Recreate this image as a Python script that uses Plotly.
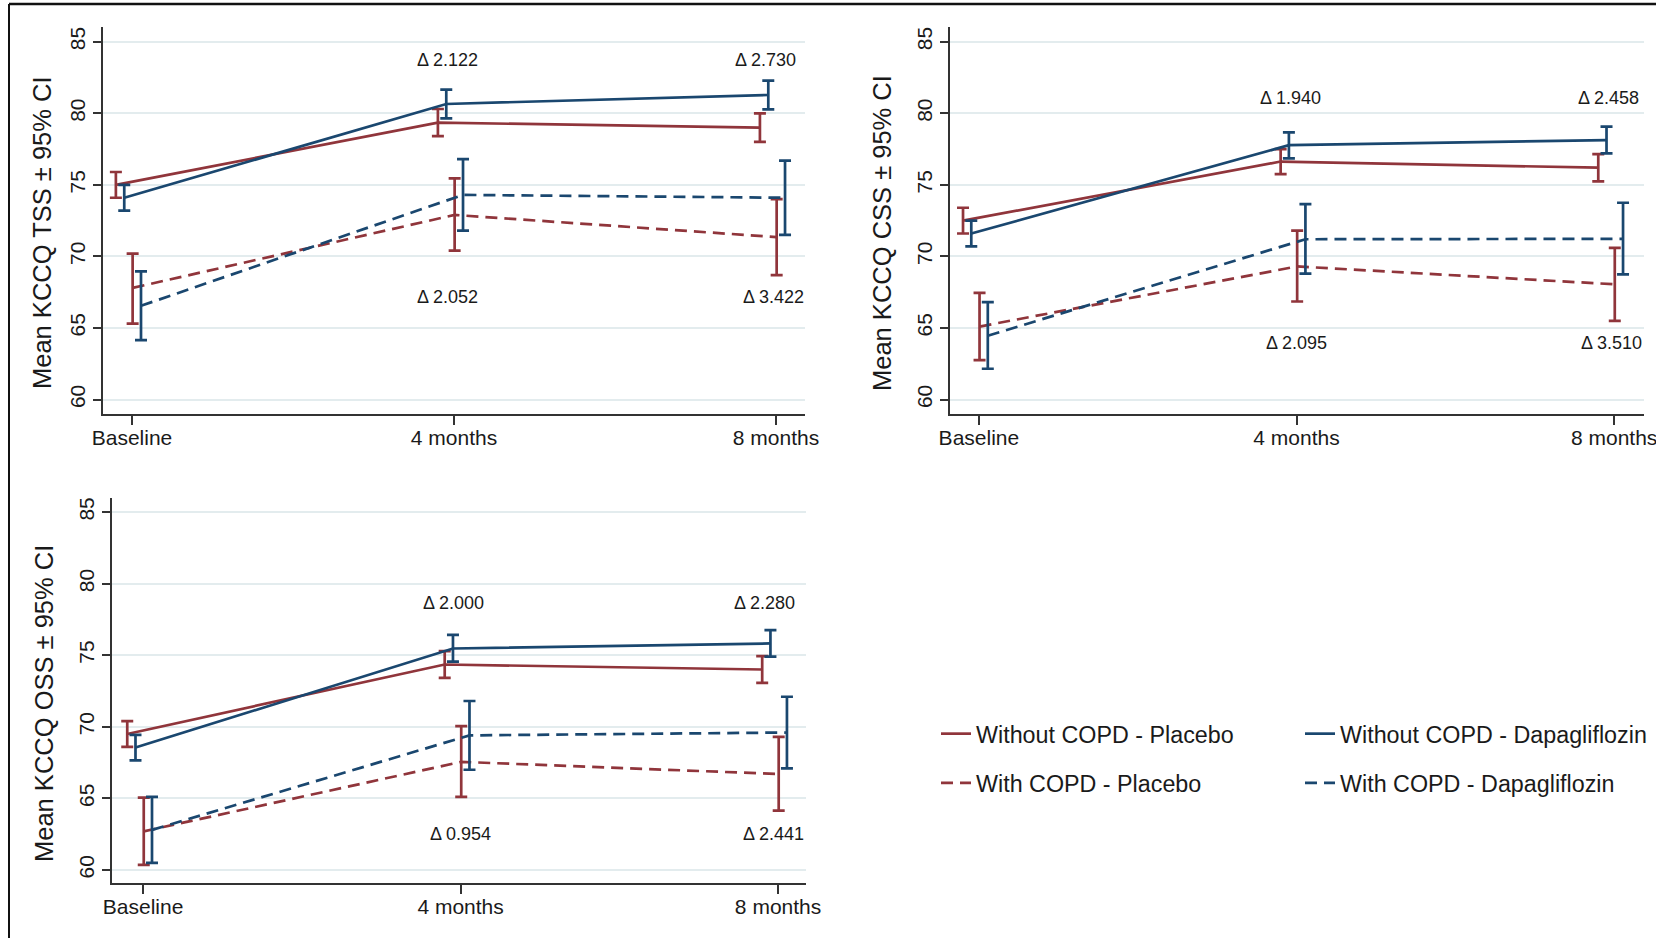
import plotly.graph_objects as go

# ---------------- data ----------------
timepoints = ["Baseline", "4 months", "8 months"]
series_names = ["Without COPD - Placebo", "Without COPD - Dapagliflozin",
                "With COPD - Placebo", "With COPD - Dapagliflozin"]

# KCCQ TSS (mean, lower CI, upper CI)
tss_nocopd_pbo = [75.0, 79.35, 79.0]
tss_nocopd_pbo_lo = [74.1, 78.4, 78.0]
tss_nocopd_pbo_hi = [75.9, 80.3, 80.0]
tss_nocopd_dapa = [74.1, 80.65, 81.28]
tss_nocopd_dapa_lo = [73.2, 79.65, 80.28]
tss_nocopd_dapa_hi = [75.0, 81.65, 82.28]
tss_copd_pbo = [67.8, 72.9, 71.35]
tss_copd_pbo_lo = [65.3, 70.4, 68.7]
tss_copd_pbo_hi = [70.2, 75.45, 74.0]
tss_copd_dapa = [66.55, 74.3, 74.1]
tss_copd_dapa_lo = [64.15, 71.8, 71.5]
tss_copd_dapa_hi = [68.95, 76.8, 76.7]

# KCCQ CSS
css_nocopd_pbo = [72.5, 76.63, 76.2]
css_nocopd_pbo_lo = [71.6, 75.75, 75.25]
css_nocopd_pbo_hi = [73.4, 77.5, 77.15]
css_nocopd_dapa = [71.6, 77.77, 78.13]
css_nocopd_dapa_lo = [70.7, 76.85, 77.2]
css_nocopd_dapa_hi = [72.5, 78.67, 79.07]
css_copd_pbo = [65.1, 69.3, 68.05]
css_copd_pbo_lo = [62.75, 66.85, 65.5]
css_copd_pbo_hi = [67.45, 71.8, 70.6]
css_copd_dapa = [64.46, 71.2, 71.23]
css_copd_dapa_lo = [62.15, 68.8, 68.75]
css_copd_dapa_hi = [66.8, 73.65, 73.75]

# KCCQ OSS
oss_nocopd_pbo = [69.5, 74.35, 74.0]
oss_nocopd_pbo_lo = [68.6, 73.42, 73.07]
oss_nocopd_pbo_hi = [70.4, 75.28, 74.93]
oss_nocopd_dapa = [68.55, 75.47, 75.82]
oss_nocopd_dapa_lo = [67.65, 74.55, 74.9]
oss_nocopd_dapa_hi = [69.43, 76.42, 76.75]
oss_copd_pbo = [62.7, 67.55, 66.7]
oss_copd_pbo_lo = [60.35, 65.1, 64.15]
oss_copd_pbo_hi = [65.05, 70.05, 69.3]
oss_copd_dapa = [62.8, 69.4, 69.6]
oss_copd_dapa_lo = [60.5, 67.0, 67.1]
oss_copd_dapa_hi = [65.1, 71.8, 72.1]

# Delta labels (4 months, 8 months)
tss_delta_nocopd = ["Δ 2.122", "Δ 2.730"]
tss_delta_copd = ["Δ 2.052", "Δ 3.422"]
css_delta_nocopd = ["Δ 1.940", "Δ 2.458"]
css_delta_copd = ["Δ 2.095", "Δ 3.510"]
oss_delta_nocopd = ["Δ 2.000", "Δ 2.280"]
oss_delta_copd = ["Δ 0.954", "Δ 2.441"]

y_ticks = [60, 65, 70, 75, 80, 85]

# ---------------- layout / styling ----------------
W, H = 1656, 938
RED = "#90353b"
BLUE = "#1a476f"
GRID = "#e3ecee"
AX = "#333333"
FONT = "Liberation Sans, Arial, sans-serif"
NARROW = "Liberation Sans Narrow, Arial Narrow, Liberation Sans, Arial, sans-serif"

series_style = [
    dict(color=RED, dash="solid", legend="legend"),
    dict(color=BLUE, dash="solid", legend="legend2"),
    dict(color=RED, dash="12px,7px", legend="legend"),
    dict(color=BLUE, dash="12px,7px", legend="legend2"),
]
x_offsets = [-0.05, -0.024, 0.002, 0.028]

panels = [
    dict(title="Mean KCCQ TSS ± 95% CI", xa="x", ya="y",
         xdom=[103 / W, 805 / W], ydom=[1 - 414 / H, 1 - 27 / H],
         xrange=[-0.09, 2.09], yrange=[58.99, 86.03],
         title_xy=(42, 233),
         series=[(tss_nocopd_pbo, tss_nocopd_pbo_lo, tss_nocopd_pbo_hi),
                 (tss_nocopd_dapa, tss_nocopd_dapa_lo, tss_nocopd_dapa_hi),
                 (tss_copd_pbo, tss_copd_pbo_lo, tss_copd_pbo_hi),
                 (tss_copd_dapa, tss_copd_dapa_lo, tss_copd_dapa_hi)],
         deltas_top=tss_delta_nocopd, deltas_bot=tss_delta_copd,
         y_top=83.7, y_bot=67.2, dx_top=[-0.02, -0.033], dx_bot=[-0.02, -0.007]),
    dict(title="Mean KCCQ CSS ± 95% CI", xa="x2", ya="y2",
         xdom=[950 / W, 1644 / W], ydom=[1 - 414 / H, 1 - 27 / H],
         xrange=[-0.091, 2.094], yrange=[58.99, 86.03],
         title_xy=(882, 233),
         series=[(css_nocopd_pbo, css_nocopd_pbo_lo, css_nocopd_pbo_hi),
                 (css_nocopd_dapa, css_nocopd_dapa_lo, css_nocopd_dapa_hi),
                 (css_copd_pbo, css_copd_pbo_lo, css_copd_pbo_hi),
                 (css_copd_dapa, css_copd_dapa_lo, css_copd_dapa_hi)],
         deltas_top=css_delta_nocopd, deltas_bot=css_delta_copd,
         y_top=81.05, y_bot=63.95, dx_top=[-0.02, -0.017], dx_bot=[0.0, -0.007]),
    dict(title="Mean KCCQ OSS ± 95% CI", xa="x3", ya="y3",
         xdom=[112 / W, 806 / W], ydom=[1 - 883 / H, 1 - 498 / H],
         xrange=[-0.098, 2.088], yrange=[59.09, 85.98],
         title_xy=(44, 704),
         series=[(oss_nocopd_pbo, oss_nocopd_pbo_lo, oss_nocopd_pbo_hi),
                 (oss_nocopd_dapa, oss_nocopd_dapa_lo, oss_nocopd_dapa_hi),
                 (oss_copd_pbo, oss_copd_pbo_lo, oss_copd_pbo_hi),
                 (oss_copd_dapa, oss_copd_dapa_lo, oss_copd_dapa_hi)],
         deltas_top=oss_delta_nocopd, deltas_bot=oss_delta_copd,
         y_top=78.65, y_bot=62.5, dx_top=[-0.023, -0.043], dx_bot=[0.0, -0.013]),
]

fig = go.Figure()
annotations = []
layout_axes = {}

for p_idx, p in enumerate(panels):
    for s_idx, (mean, lo, hi) in enumerate(p["series"]):
        st = series_style[s_idx]
        xs = [i + x_offsets[s_idx] for i in range(len(timepoints))]
        fig.add_trace(go.Scatter(
            x=xs, y=mean, mode="lines",
            name=series_names[s_idx],
            legendgroup=series_names[s_idx],
            showlegend=(p_idx == 0),
            legend=st["legend"],
            line=dict(color=st["color"], width=2.7, dash=st["dash"]),
            error_y=dict(type="data", symmetric=False,
                         array=[h - m for h, m in zip(hi, mean)],
                         arrayminus=[m - l for m, l in zip(mean, lo)],
                         color=st["color"], thickness=2.7, width=6),
            xaxis=p["xa"], yaxis=p["ya"],
            hovertemplate="%{y:.2f}<extra>" + series_names[s_idx] + "</extra>",
        ))

    xkey = "xaxis" + p["xa"][1:]
    ykey = "yaxis" + p["ya"][1:]
    layout_axes[xkey] = dict(
        domain=p["xdom"], range=p["xrange"], anchor=p["ya"], automargin=False,
        tickmode="array", tickvals=list(range(len(timepoints))), ticktext=timepoints,
        ticks="outside", ticklen=9, tickwidth=1.5, tickcolor=AX,
        ticklabelstandoff=-5, ticklabeloverflow="allow",
        showline=True, linecolor=AX, linewidth=1.6,
        showgrid=False, zeroline=False,
        tickfont=dict(family=FONT, size=21, color="#1a1a1a"),
    )
    layout_axes[ykey] = dict(
        domain=p["ydom"], range=p["yrange"], anchor=p["xa"], automargin=False,
        tickmode="array", tickvals=y_ticks,
        ticks="outside", ticklen=8, tickwidth=1.5, tickcolor=AX, tickangle=-90,
        ticklabelstandoff=0, ticklabeloverflow="allow",
        showline=True, linecolor=AX, linewidth=1.6,
        showgrid=True, gridcolor=GRID, gridwidth=2, zeroline=False,
        tickfont=dict(family=FONT, size=21, color="#1a1a1a"),
    )

    tx, ty = p["title_xy"]
    annotations.append(dict(
        text=p["title"], xref="paper", yref="paper", x=tx / W, y=1 - ty / H,
        xanchor="center", yanchor="middle", textangle=-90, showarrow=False,
        font=dict(family=FONT, size=25.5, color="#1a1a1a"),
    ))
    for k in range(2):
        annotations.append(dict(
            text=p["deltas_top"][k], xref=p["xa"], yref=p["ya"],
            x=k + 1 + p["dx_top"][k], y=p["y_top"], showarrow=False,
            xanchor="center", yanchor="middle",
            font=dict(family=NARROW, size=18, color="#1a1a1a"),
        ))
        annotations.append(dict(
            text=p["deltas_bot"][k], xref=p["xa"], yref=p["ya"],
            x=k + 1 + p["dx_bot"][k], y=p["y_bot"], showarrow=False,
            xanchor="center", yanchor="middle",
            font=dict(family=NARROW, size=18, color="#1a1a1a"),
        ))

legend_common = dict(
    orientation="v", xanchor="left", yanchor="top",
    font=dict(family=FONT, size=23.3, color="#1a1a1a"),
    bgcolor="rgba(0,0,0,0)", tracegroupgap=16, borderwidth=0,
)

fig.update_layout(
    width=W, height=H, autosize=False,
    margin=dict(l=0, r=0, t=0, b=0, pad=0, autoexpand=False),
    paper_bgcolor="white", plot_bgcolor="white",
    font=dict(family=FONT, color="#1a1a1a"),
    annotations=annotations,
    legend=dict(legend_common, x=(979 - 43) / W, y=1 - (734 - 22) / H),
    legend2=dict(legend_common, x=(1346 - 46) / W, y=1 - (734 - 22) / H),
    shapes=[
        dict(type="line", xref="paper", yref="paper",
             x0=9 / W, x1=1, y0=1 - 4 / H, y1=1 - 4 / H,
             line=dict(color="#111111", width=2.5)),
        dict(type="line", xref="paper", yref="paper",
             x0=9 / W, x1=9 / W, y0=1 - 4 / H, y1=0,
             line=dict(color="#111111", width=2)),
    ],
    **layout_axes,
)

fig.write_html("out.html")
